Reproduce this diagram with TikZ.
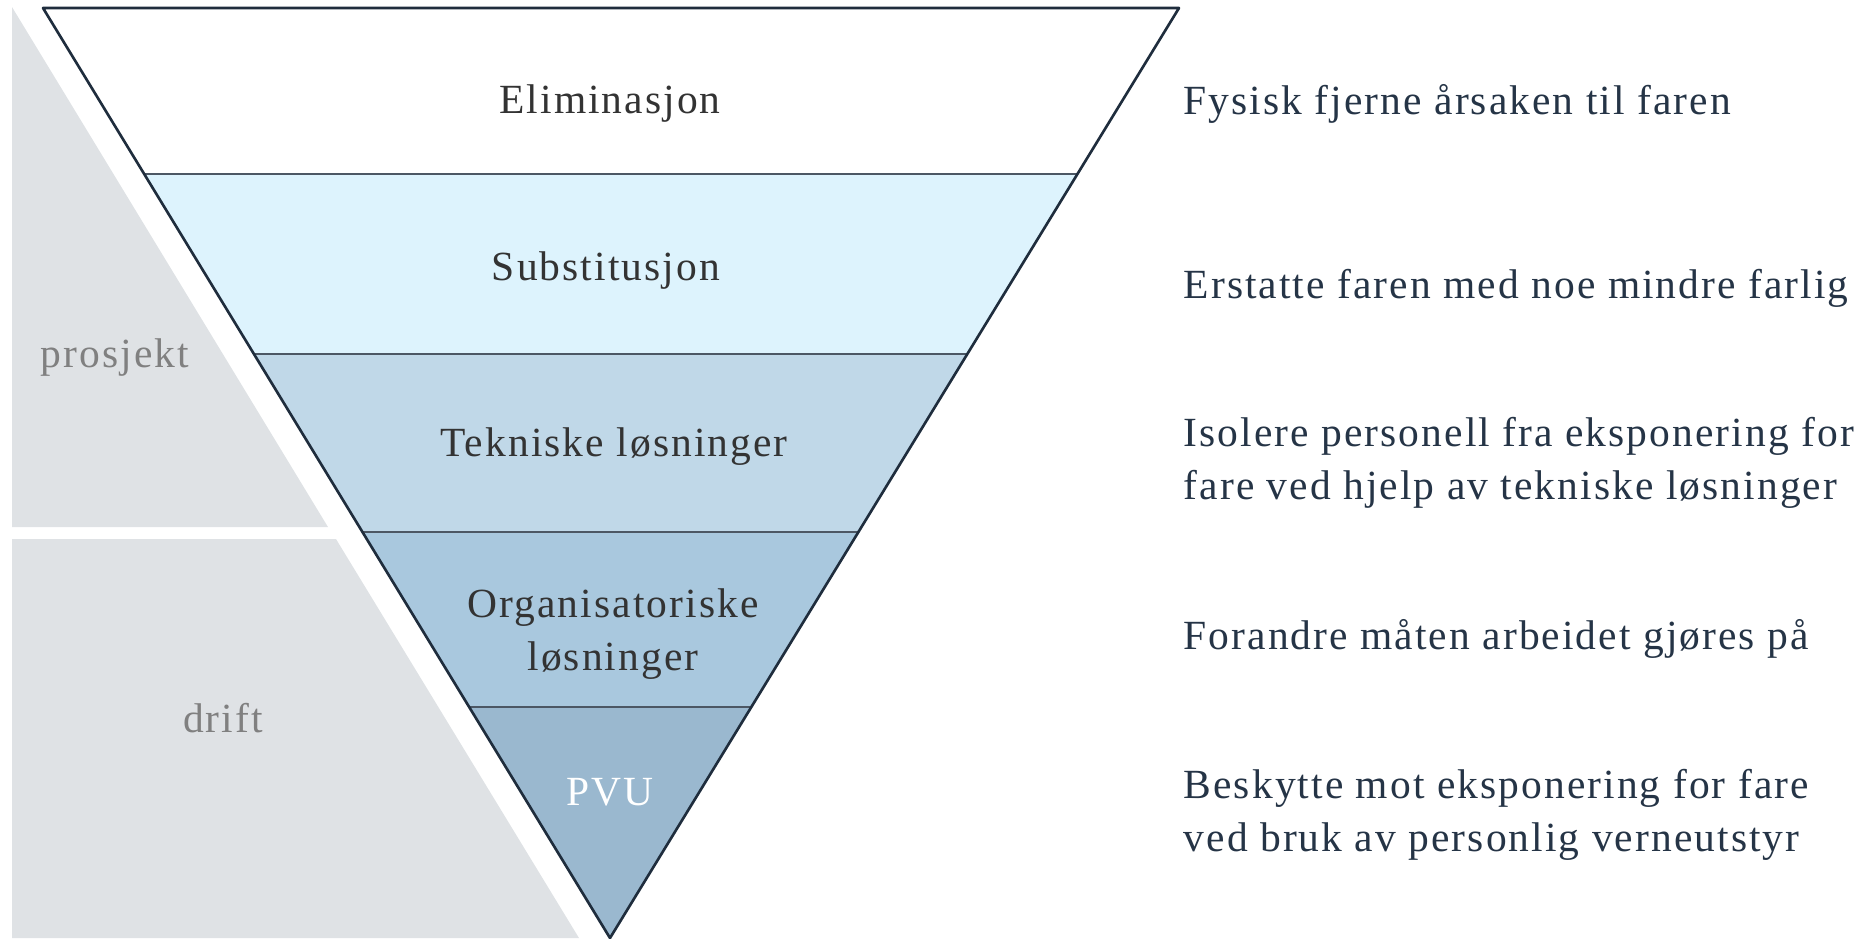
\documentclass[tikz,border=0pt]{standalone}
\usepackage{fontspec}
\setmainfont{Liberation Serif}[LetterSpace=5]
\usepackage{tikz}
\usetikzlibrary{calc}

\definecolor{outlinenavy}{RGB}{31, 45, 61}
\definecolor{descnavy}{RGB}{37, 52, 70}
\definecolor{labeldark}{RGB}{51, 51, 51}
\definecolor{panelgrey}{RGB}{223, 226, 229}
\definecolor{paneltext}{RGB}{128, 128, 128}
\definecolor{bandone}{RGB}{255, 255, 255}
\definecolor{bandtwo}{RGB}{221, 243, 253}
\definecolor{bandthree}{RGB}{192, 216, 232}
\definecolor{bandfour}{RGB}{169, 200, 222}
\definecolor{bandfive}{RGB}{154, 184, 207}

\tikzset{
  bandlabel/.style={font=\fontsize{11.8}{14.9}\selectfont, text=labeldark, align=center, inner sep=0pt},
  paneltxt/.style={font=\fontsize{11.8}{14.9}\selectfont, text=paneltext, inner sep=0pt},
  desctxt/.style={font=\fontsize{11.8}{14.9}\selectfont, text=descnavy, anchor=west, align=left, inner sep=0pt},
}

\begin{document}
\begin{tikzpicture}[x=0.01cm, y=-0.01cm, line join=round]
  \useasboundingbox (0,0) rectangle (1861,938);

  % Grey side panels
  \fill[panelgrey] (12,7) -- (328,527) -- (12,527) -- cycle;
  \fill[panelgrey] (12,539) -- (336,539) -- (579,938) -- (12,938) -- cycle;
  \node[paneltxt] (prosjekt) at (115,358) {prosjekt};
  \node[paneltxt] (drift) at (223,718) {drift};

  % Inverted triangle
  \coordinate (tl) at (43,8);
  \coordinate (tr) at (1179,8);
  \coordinate (apex) at (610,938);

  \begin{scope}
    \clip (tl) -- (tr) -- (apex) -- cycle;
    \fill[bandone] (0,0) rectangle (1861,174);
    \fill[bandtwo] (0,174) rectangle (1861,354);
    \fill[bandthree] (0,354) rectangle (1861,532);
    \fill[bandfour] (0,532) rectangle (1861,707);
    \fill[bandfive] (0,707) rectangle (1861,940);
  \end{scope}

  % Band borders
  \foreach \t in {0.1785, 0.3720, 0.5634, 0.7516}
    \draw[outlinenavy!80, line width=0.35pt] ($(tl)!\t!(apex)$) -- ($(tr)!\t!(apex)$);
  \draw[outlinenavy, line width=0.75pt] (tl) -- (tr) -- (apex) -- cycle;

  % Band labels
  \node[bandlabel] (elim) at (610,104) {Eliminasjon};
  \node[bandlabel] (subst) at (606,271) {Substitusjon};
  \node[bandlabel] (tekn) at (614,447) {Tekniske løsninger};
  \node[bandlabel] (org) at (613,634) {Organisatoriske\\løsninger};
  \node[bandlabel, text=white] (pvu) at (610,792) {PVU};

  % Descriptions
  \node[desctxt] (elimtxt) at (1183,104) {Fysisk fjerne årsaken til faren};
  \node[desctxt] (substtxt) at (1183,288) {Erstatte faren med noe mindre farlig};
  \node[desctxt] (tekntxt) at (1183,463) {Isolere personell fra eksponering for\\fare ved hjelp av tekniske løsninger};
  \node[desctxt] (orgtxt) at (1183,639) {Forandre måten arbeidet gjøres på};
  \node[desctxt] (pvutxt) at (1183,815) {Beskytte mot eksponering for fare\\ved bruk av personlig verneutstyr};
\end{tikzpicture}
\end{document}
